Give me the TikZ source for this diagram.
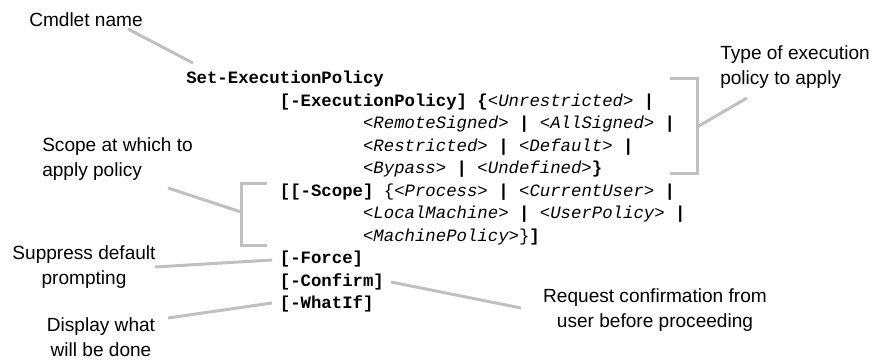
\documentclass[tikz,border=0pt]{standalone}
\usepackage{fontspec}
\setmainfont{Liberation Sans}
\newfontfamily\codefont{Liberation Mono}
\definecolor{linegray}{HTML}{C0C0C0}
\begin{document}
\begin{tikzpicture}[x=0.75pt,y=-0.75pt,
  code/.style={anchor=base west, inner sep=0pt, font=\codefont\fontsize{13}{16}\selectfont},
  lbl/.style={inner sep=0pt, font=\fontsize{14.3}{18.75}\selectfont},
  conn/.style={draw=linegray, line width=2.25pt}]
\useasboundingbox (0,0) rectangle (874,360);
% code lines
\node[code] (l0) at (186,83.5) {\textbf{Set-ExecutionPolicy}};
\node[code] (l1) at (279.6,106) {\textbf{[-ExecutionPolicy] \{}\textit{<Unrestricted>} \textbf{|}};
\node[code] (l2) at (362.8,128.5) {\textit{<RemoteSigned>} \textbf{|} \textit{<AllSigned>} \textbf{|}};
\node[code] (l3) at (362.8,151) {\textit{<Restricted>} \textbf{|} \textit{<Default>} \textbf{|}};
\node[code] (l4) at (362.8,173.5) {\textit{<Bypass>} \textbf{|} \textit{<Undefined>}\textbf{\}}};
\node[code] (l5) at (279.6,196) {\textbf{[[-Scope]} \{\textit{<Process>} \textbf{|} \textit{<CurrentUser>} \textbf{|}};
\node[code] (l6) at (362.8,218.5) {\textit{<LocalMachine>} \textbf{|} \textit{<UserPolicy>} \textbf{|}};
\node[code] (l7) at (362.8,241) {\textit{<MachinePolicy>}\}\textbf{]}};
\node[code] (l8) at (279.6,263.5) {\textbf{[-Force]}};
\node[code] (l9) at (279.6,286) {\textbf{[-Confirm]}};
\node[code] (l10) at (279.6,308.5) {\textbf{[-WhatIf]}};
% labels
\node[lbl, anchor=west] (cmd) at (29,20) {Cmdlet name};
\node[lbl, anchor=west, align=left] (type) at (720,67) {Type of execution\\policy to apply};
\node[lbl, anchor=west, align=left] (scopelbl) at (42,159.5) {Scope at which to\\apply policy};
\node[lbl, align=center] (supp) at (84,267.5) {Suppress default\\prompting};
\node[lbl, align=center] (disp) at (101,337) {Display what\\will be done};
\node[lbl, align=center] (req) at (655,310) {Request confirmation from\\user before proceeding};
% connector points
\coordinate (cmdA) at (128,29);
\coordinate (cmdB) at (193,63);
\coordinate (eT) at (670,79);
\coordinate (eTR) at (697,79);
\coordinate (eBR) at (697,173);
\coordinate (eB) at (670,173);
\coordinate (eM) at (697,127);
\coordinate (eL) at (747,98);
\coordinate (sT) at (267,183);
\coordinate (sTL) at (241,183);
\coordinate (sBL) at (241,245);
\coordinate (sB) at (267,245);
\coordinate (sM) at (241,212);
\coordinate (sL) at (168,188);
\coordinate (fA) at (155,267);
\coordinate (fB) at (272,260);
\coordinate (wA) at (168,318);
\coordinate (wB) at (272,303);
\coordinate (cA) at (391,282);
\coordinate (cB) at (521,308);
% connectors
\draw[conn] (cmdA) -- (cmdB);
\draw[conn] (eT) -- (eTR) -- (eBR) -- (eB);
\draw[conn] (eM) -- (eL);
\draw[conn] (sT) -- (sTL) -- (sBL) -- (sB);
\draw[conn] (sM) -- (sL);
\draw[conn] (fA) -- (fB);
\draw[conn] (wA) -- (wB);
\draw[conn] (cA) -- (cB);
\end{tikzpicture}
\end{document}
